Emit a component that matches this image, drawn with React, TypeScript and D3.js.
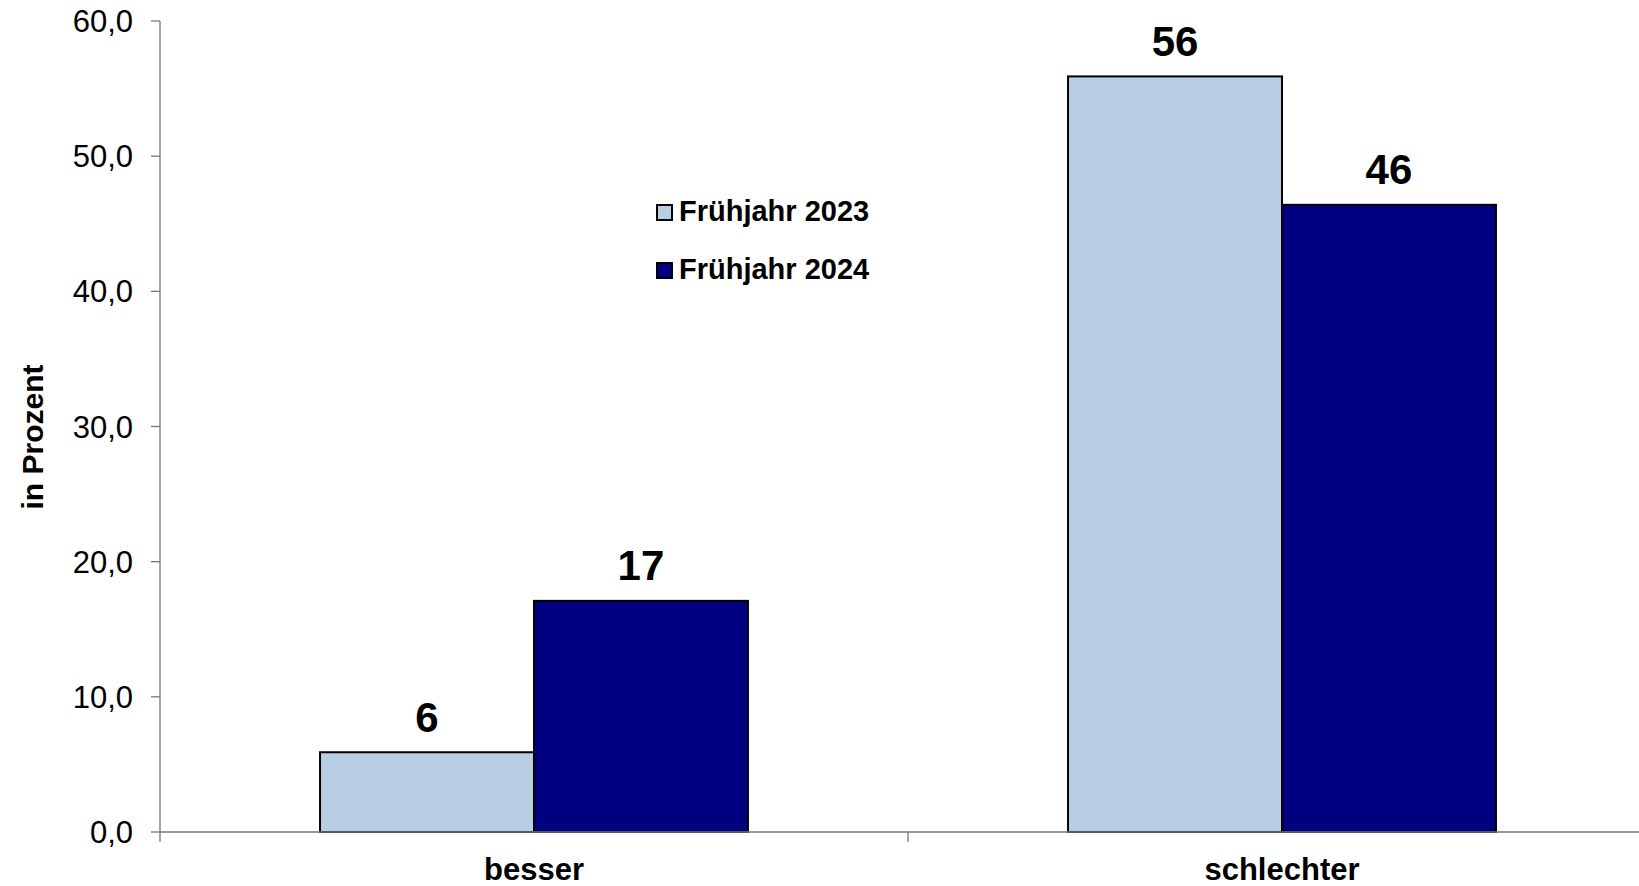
import React from "react";
import * as d3 from "d3";

const categories = ["besser", "schlechter"];
const seriesNames = ["Frühjahr 2023", "Frühjahr 2024"];
const values2023 = [5.9, 55.9];
const values2024 = [17.1, 46.4];
const valueLabels2023 = ["6", "56"];
const valueLabels2024 = ["17", "46"];
const yTicks = [0, 10, 20, 30, 40, 50, 60];
const colors = ["#B9CDE5", "#000080"];

const W = 1639;
const H = 886;
const FONT = "'Liberation Sans', Arial, Helvetica, sans-serif";

export default function App() {
  const y = d3.scaleLinear().domain([0, 60]).range([832, 21]);
  const x0 = d3.scaleBand().domain(categories).range([160, 1656]).paddingInner(0).paddingOuter(0);
  const x1 = d3
    .scaleBand()
    .domain(seriesNames)
    .range([0, x0.bandwidth()])
    .paddingInner(0)
    .paddingOuter(0.748);
  const fmt = (v: number) => d3.format(".1f")(v).replace(".", ",");
  const series = [
    { name: seriesNames[0], values: values2023, labels: valueLabels2023, color: colors[0] },
    { name: seriesNames[1], values: values2024, labels: valueLabels2024, color: colors[1] },
  ];
  const axisColor = "#777777";

  return (
    <svg
      width={W}
      height={H}
      style={{ position: "absolute", left: 0, top: 0, display: "block", background: "#fff" }}
      fontFamily={FONT}
    >
      {/* y axis */}
      <line x1={160} x2={160} y1={y(60)} y2={842} stroke={axisColor} strokeWidth={1.3} />
      {yTicks.map((t) => (
        <g key={t}>
          <line x1={151} x2={160} y1={y(t)} y2={y(t)} stroke={axisColor} strokeWidth={1.3} />
          <text x={133} y={y(t)} dy="0.36em" textAnchor="end" fontSize={31} fill="#000">
            {fmt(t)}
          </text>
        </g>
      ))}
      {/* bars */}
      {categories.map((c, ci) => (
        <g key={c} transform={`translate(${x0(c)},0)`}>
          {series.map((s) => (
            <g key={s.name}>
              <rect
                x={x1(s.name)}
                y={y(s.values[ci])}
                width={x1.bandwidth()}
                height={y(0) - y(s.values[ci])}
                fill={s.color}
                stroke="#000"
                strokeWidth={2}
              />
              <text
                x={(x1(s.name) as number) + x1.bandwidth() / 2}
                y={y(s.values[ci]) - 20.5}
                textAnchor="middle"
                fontSize={42}
                fontWeight="bold"
                fill="#000"
              >
                {s.labels[ci]}
              </text>
            </g>
          ))}
        </g>
      ))}
      {/* x axis */}
      <line x1={160} x2={W} y1={y(0)} y2={y(0)} stroke={axisColor} strokeWidth={1.5} />
      {categories.slice(1).map((c) => (
        <line key={c} x1={x0(c)} x2={x0(c)} y1={y(0)} y2={842} stroke={axisColor} strokeWidth={1.3} />
      ))}
      {categories.map((c) => (
        <text
          key={c}
          x={(x0(c) as number) + x0.bandwidth() / 2}
          y={880}
          textAnchor="middle"
          fontSize={31}
          fontWeight="bold"
          fill="#000"
        >
          {c}
        </text>
      ))}
      {/* y axis title */}
      <text
        transform={`translate(43,437) rotate(-90)`}
        textAnchor="middle"
        fontSize={30}
        fontWeight="bold"
        fill="#000"
      >
        in Prozent
      </text>
      {/* legend */}
      {series.map((s, i) => (
        <g key={s.name} transform={`translate(657,${205 + i * 58})`}>
          <rect x={0} y={0} width={15} height={15} fill={s.color} stroke="#000" strokeWidth={2} />
          <text x={22} y={15.5} fontSize={29} fontWeight="bold" fill="#000">
            {s.name}
          </text>
        </g>
      ))}
    </svg>
  );
}
